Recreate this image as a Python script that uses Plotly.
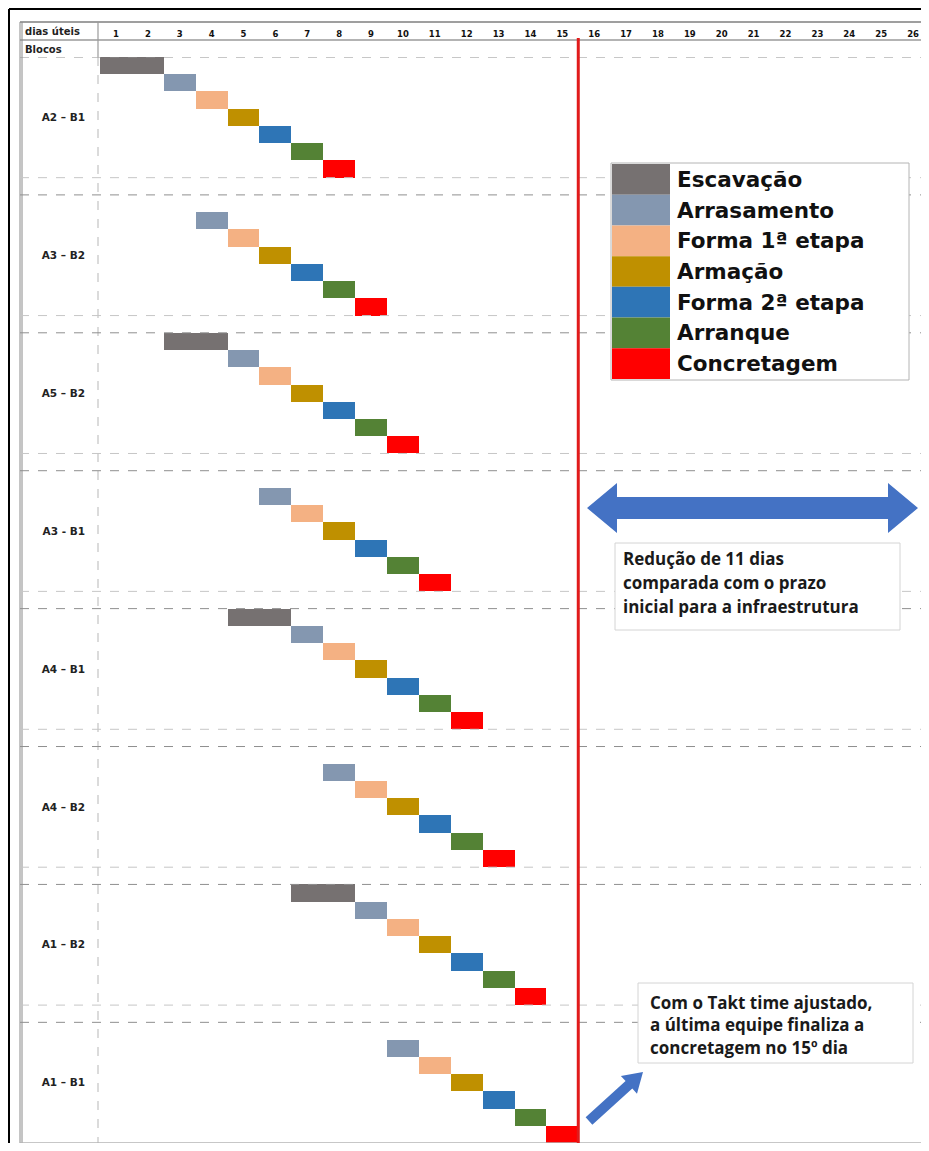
import math
import plotly.graph_objects as go

# ---------------- data ----------------
blocks = ["A2 – B1", "A3 – B2", "A5 – B2", "A3 - B1", "A4 – B1", "A4 – B2", "A1 – B2", "A1 – B1"]
activities = ["Escavação", "Arrasamento", "Forma 1ª etapa", "Armação",
              "Forma 2ª etapa", "Arranque", "Concretagem"]
colors = ["#767171", "#8497B0", "#F4B183", "#BF9000", "#2E75B6", "#548235", "#FF0000"]
durations = [2, 1, 1, 1, 1, 1, 1]

# start day of each activity per block (None = activity not scheduled)
escavacao_start = [1, None, 3, None, 5, None, 7, None]
arrasamento_start = [3, 4, 5, 6, 7, 8, 9, 10]
forma1_start = [4, 5, 6, 7, 8, 9, 10, 11]
armacao_start = [5, 6, 7, 8, 9, 10, 11, 12]
forma2_start = [6, 7, 8, 9, 10, 11, 12, 13]
arranque_start = [7, 8, 9, 10, 11, 12, 13, 14]
concretagem_start = [8, 9, 10, 11, 12, 13, 14, 15]
starts = [escavacao_start, arrasamento_start, forma1_start, armacao_start,
          forma2_start, arranque_start, concretagem_start]

day_labels = ["1", "2", "3", "4", "5", "6", "7", "8", "9", "10", "11", "12", "13",
              "14", "15", "16", "17", "18", "19", "20", "21", "22", "23", "24", "25", "26"]
takt_end_day = 15

note1 = ["Redução de 11 dias", "comparada com o prazo", "inicial para a infraestrutura"]
note2 = ["Com o Takt time ajustado,", "a última equipe finaliza a", "concretagem no 15º dia"]

# ---------------- geometry (reference pixel coords; page body adds 8px margin) ----------------
OFF = 8
W, H = 929 - 2 * OFF, 1151 - 2 * OFF
L, R, T, B = 100, 929 - OFF, 57, 1143          # plot area in reference pixels
DAY_PX = (929 - 100) / 26.0
X_MAX = (R - L) / DAY_PX
ROWS_PER_BLOCK = 8
NROWS = len(blocks) * ROWS_PER_BLOCK - 1


def px(x):
    return (x - L) / (R - L)


def py(y):
    return (B - y) / (B - T)


fig = go.Figure()

for a, act in enumerate(activities):
    ys, bases, xs = [], [], []
    for b, s in enumerate(starts[a]):
        if s is None:
            continue
        ys.append(b * ROWS_PER_BLOCK + a + 0.5)
        bases.append(s - 1)
        xs.append(durations[a])
    fig.add_trace(go.Bar(orientation="h", y=ys, x=xs, base=bases, width=1,
                         marker=dict(color=colors[a], line=dict(width=0)),
                         name=act, showlegend=False, hoverinfo="skip"))


def hline(y, x0, x1, color, width=1, dash="solid", yref="paper"):
    yy = py(y) if yref == "paper" else y
    return dict(type="line", xref="paper", yref=yref, x0=px(x0), x1=px(x1), y0=yy, y1=yy,
                line=dict(color=color, width=width, dash=dash))


def vline(x, y0, y1, color, width=1, dash="solid"):
    return dict(type="line", xref="paper", yref="paper", x0=px(x), x1=px(x), y0=py(y0), y1=py(y1),
                line=dict(color=color, width=width, dash=dash))


shapes = []
# black outer frame
shapes.append(vline(9, 9, 1151, "black", 2))
shapes.append(hline(9, 9, 929, "black", 2))

# table frame
shapes.append(hline(22, 20, 929, "#7f7f7f", 1.5))
shapes.append(hline(40, 20, 929, "#9a9a9a", 1.5))
shapes.append(vline(20, 22, 1143, "#8a8a8a", 1))
shapes.append(vline(22, 22, 1143, "#8a8a8a", 1))
shapes.append(vline(98, 22, 57, "#9a9a9a", 1.2))
shapes.append(vline(98, 57, 1143, "#c4c4c4", 1.2, "dash"))

# block separator lines
for b in range(len(blocks)):
    top = b * ROWS_PER_BLOCK
    bot = top + 7
    shapes.append(hline(top, 20, 929, "#8f8f8f", 1, "dash", yref="y"))
    if b < len(blocks) - 1:
        shapes.append(hline(bot, 20, 929, "#c6c6c6", 1, "dash", yref="y"))
shapes.append(hline(NROWS, 20, 929, "#b5b5b5", 1.5, yref="y"))

# red takt line
shapes.append(dict(type="line", xref="x", yref="paper", x0=takt_end_day, x1=takt_end_day,
                   y0=0, y1=py(38), line=dict(color="#E11B1B", width=3)))

# legend box
LX0, LX1, LY0, LY1 = 611, 909, 163, 380
shapes.append(dict(type="rect", xref="paper", yref="paper", x0=px(LX0), x1=px(LX1), y0=py(LY0), y1=py(LY1),
                   fillcolor="white", line=dict(color="#b4b4b4", width=1)))
sw_h = (LY1 - LY0 - 2) / len(activities)
annotations = []
for i, (act, c) in enumerate(zip(activities, colors)):
    y0 = LY0 + 1 + i * sw_h
    shapes.append(dict(type="rect", xref="paper", yref="paper", x0=px(LX0 + 1), x1=px(670),
                       y0=py(y0), y1=py(y0 + sw_h), fillcolor=c, line=dict(width=0)))
    annotations.append(dict(xref="paper", yref="paper", x=px(675), y=py(y0 + sw_h / 2),
                            text="<b>" + act + "</b>", showarrow=False, xanchor="left", yanchor="middle",
                            font=dict(family="DejaVu Sans", size=21.5, color="#111")))


def path(points):
    return "M " + " L ".join(f"{px(x):.5f},{py(y):.5f}" for x, y in points) + " Z"


# double arrow
yc = 508
dbl = [(587, yc), (617, yc - 25), (617, yc - 11), (888, yc - 11), (888, yc - 25), (918, yc),
       (888, yc + 25), (888, yc + 11), (617, yc + 11), (617, yc + 25)]
shapes.append(dict(type="path", xref="paper", yref="paper", path=path(dbl),
                   fillcolor="#4472C4", line=dict(width=0)))

# small diagonal arrow
tx, ty, hx, hy = 589, 1121, 643, 1072
dx, dy = hx - tx, hy - ty
ln = math.hypot(dx, dy)
ux, uy = dx / ln, dy / ln
nx, ny = -uy, ux
sw, hw, hl = 5, 12, 19
bx, by = hx - ux * hl, hy - uy * hl
small = [(tx + nx * sw, ty + ny * sw), (bx + nx * sw, by + ny * sw), (bx + nx * hw, by + ny * hw), (hx, hy),
         (bx - nx * hw, by - ny * hw), (bx - nx * sw, by - ny * sw), (tx - nx * sw, ty - ny * sw)]
shapes.append(dict(type="path", xref="paper", yref="paper", path=path(small),
                   fillcolor="#4472C4", line=dict(width=0)))

# note boxes
shapes.append(dict(type="rect", xref="paper", yref="paper", x0=px(615), x1=px(900), y0=py(543), y1=py(630),
                   fillcolor="white", line=dict(color="#d4d4d4", width=1)))
shapes.append(dict(type="rect", xref="paper", yref="paper", x0=px(638), x1=px(913), y0=py(983), y1=py(1063),
                   fillcolor="white", line=dict(color="#d4d4d4", width=1)))
for i, t in enumerate(note1):
    annotations.append(dict(xref="paper", yref="paper", x=px(621), y=py(558 + i * 24.5), text="<b>" + t + "</b>",
                            showarrow=False, xanchor="left", yanchor="middle",
                            font=dict(family="Open Sans", size=17, color="#1a1a1a")))
for i, t in enumerate(note2):
    annotations.append(dict(xref="paper", yref="paper", x=px(648), y=py(1002 + i * 22.7), text="<b>" + t + "</b>",
                            showarrow=False, xanchor="left", yanchor="middle",
                            font=dict(family="Open Sans", size=17, color="#1a1a1a")))

# header texts
annotations.append(dict(xref="paper", yref="paper", x=px(23), y=py(31.5), text="<b>dias úteis</b>",
                        showarrow=False, xanchor="left", yanchor="middle",
                        font=dict(family="DejaVu Sans", size=10, color="#222")))
annotations.append(dict(xref="paper", yref="paper", x=px(23), y=py(49), text="<b>Blocos</b>",
                        showarrow=False, xanchor="left", yanchor="middle",
                        font=dict(family="DejaVu Sans", size=10, color="#222")))

fig.update_layout(
    width=W, height=H,
    margin=dict(l=L - OFF, r=0, t=T - OFF, b=0, pad=0),
    paper_bgcolor="white", plot_bgcolor="white",
    barmode="overlay", bargap=0,
    shapes=shapes, annotations=annotations,
    xaxis=dict(range=[0, X_MAX], side="top", showgrid=False, zeroline=False, showline=False,
               tickmode="array", tickvals=[i + 0.5 for i in range(len(day_labels))],
               ticktext=["<b>" + d + "</b>" for d in day_labels],
               ticks="", ticklabelstandoff=17,
               tickfont=dict(family="DejaVu Sans", size=8.5, color="#111"), fixedrange=True),
    yaxis=dict(range=[NROWS, 0], showgrid=False, zeroline=False, showline=False,
               tickmode="array", tickvals=[b * ROWS_PER_BLOCK + 3.5 for b in range(len(blocks))],
               ticktext=["<b>" + s + "</b>" for s in blocks], ticks="", ticklabelstandoff=14,
               tickfont=dict(family="DejaVu Sans", size=10.5, color="#222"), fixedrange=True),
    showlegend=False,
)

fig.write_html("out.html")
